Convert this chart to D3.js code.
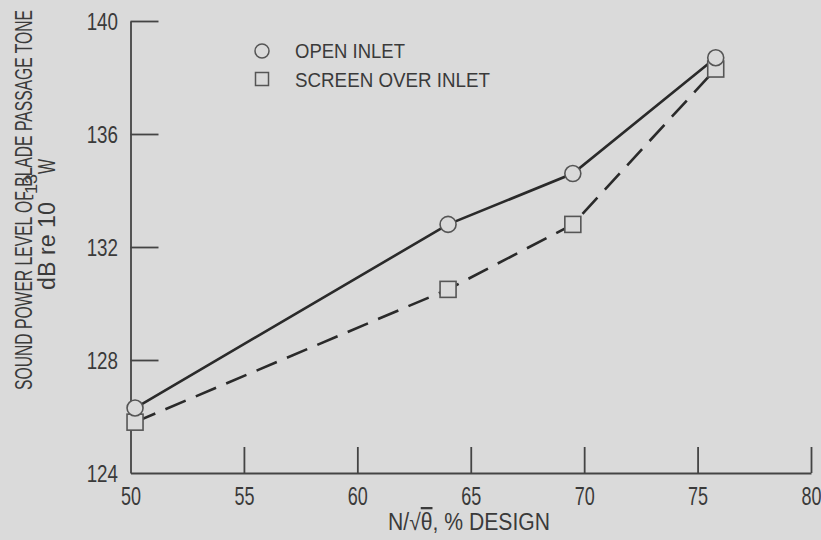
<!DOCTYPE html>
<html>
<head>
<meta charset="utf-8">
<script src="https://cdn.jsdelivr.net/npm/d3@7"></script>
<style>
    body { margin: 0; background: #dadada; }
    svg { display: block; }
    text { font-family: "Liberation Sans", Arial, sans-serif; fill: #3a3a3a; }
</style>
</head>
<body>
<svg id="chart" width="821" height="540"></svg>
<script>
// speed values, % design
var openX = [50.2, 64.0, 69.5, 75.8];
var openY = [126.3, 132.8, 134.6, 138.7];
var screenX = [50.2, 64.0, 69.5, 75.8];
var screenY = [125.8, 130.5, 132.8, 138.3];
var xTicks = [50, 55, 60, 65, 70, 75, 80];
var yTicks = [124, 128, 132, 136, 140];
var seriesNames = ["OPEN INLET", "SCREEN OVER INLET"];

var width = 821,
    height = 540,
    mLeft = 130.5,
    mRight = 811,
    mTop = 21,
    mBottom = 473;

var bg = "#dadada";
var ink = "#2a2a2a";

// squeeze text to look like the narrow typeface of the original
function squeeze(sel, factor) {
    sel.each(function () {
        var len = this.getComputedTextLength();
        d3.select(this)
            .attr("textLength", len * factor)
            .attr("lengthAdjust", "spacingAndGlyphs");
    });
}

var svg = d3.select("#chart");

svg.append("rect")
    .attr("width", width)
    .attr("height", height)
    .attr("fill", bg);

var x = d3.scaleLinear().domain([50, 80]).range([mLeft, mRight]);
var y = d3.scaleLinear().domain([124, 140]).range([mBottom, mTop]);

// x axis, ticks pointing up
var xAxis = svg.append("g")
    .attr("transform", "translate(0," + mBottom + ")")
    .call(d3.axisBottom(x).tickValues(xTicks).tickSize(-26).tickSizeOuter(0).tickFormat(d3.format("d")));

// y axis, ticks pointing right
var yAxis = svg.append("g")
    .attr("transform", "translate(" + mLeft + ",0)")
    .call(d3.axisLeft(y).tickValues(yTicks).tickSize(-28).tickSizeOuter(0).tickFormat(d3.format("d")));

[xAxis, yAxis].forEach(function (a) {
    a.select(".domain").attr("stroke", "#444").attr("stroke-width", 1.8);
    a.selectAll(".tick line").attr("stroke", "#444").attr("stroke-width", 1.8);
    a.selectAll(".tick text")
        .attr("fill", "#3a3a3a")
        .style("font-family", null);
});
xAxis.selectAll(".tick text")
    .attr("y", 32)
    .attr("dy", "0")
    .style("font-size", "25px")
    .call(squeeze, 0.72);
yAxis.selectAll(".tick text")
    .attr("x", -12.5)
    .attr("dy", "0.38em")
    .style("font-size", "23.5px")
    .call(squeeze, 0.8);
// the corner ticks are just the axis lines
yAxis.selectAll(".tick line").filter(function (d) { return d == 124; }).remove();
xAxis.selectAll(".tick line").filter(function (d) { return d == 50; }).remove();

// lines
var line = d3.line()
    .x(function (d) { return x(d[0]); })
    .y(function (d) { return y(d[1]); });

svg.append("path")
    .datum(d3.zip(openX, openY))
    .attr("d", line)
    .attr("fill", "none")
    .attr("stroke", ink)
    .attr("stroke-width", 2.6);

svg.append("path")
    .datum(d3.zip(screenX, screenY))
    .attr("d", line)
    .attr("fill", "none")
    .attr("stroke", ink)
    .attr("stroke-width", 2.6)
    .attr("stroke-dasharray", "22,11");

// markers
svg.selectAll(".sq")
    .data(d3.zip(screenX, screenY))
    .enter().append("rect")
    .attr("class", "sq")
    .attr("x", function (d) { return x(d[0]) - 8; })
    .attr("y", function (d) { return y(d[1]) - 8; })
    .attr("width", 16)
    .attr("height", 16)
    .attr("fill", bg)
    .attr("stroke", "#555")
    .attr("stroke-width", 1.6);

svg.selectAll(".ci")
    .data(d3.zip(openX, openY))
    .enter().append("circle")
    .attr("class", "ci")
    .attr("cx", function (d) { return x(d[0]); })
    .attr("cy", function (d) { return y(d[1]); })
    .attr("r", 8)
    .attr("fill", bg)
    .attr("stroke", "#555")
    .attr("stroke-width", 1.6);

// legend
var legend = svg.append("g").attr("transform", "translate(262,51)");
legend.append("circle")
    .attr("r", 7)
    .attr("fill", "none")
    .attr("stroke", "#555")
    .attr("stroke-width", 1.5);
legend.append("rect")
    .attr("x", -6.5)
    .attr("y", 21.5)
    .attr("width", 13)
    .attr("height", 13)
    .attr("fill", "none")
    .attr("stroke", "#555")
    .attr("stroke-width", 1.5);
legend.selectAll(".lt")
    .data(seriesNames)
    .enter().append("text")
    .attr("class", "lt")
    .attr("x", 33)
    .attr("y", function (d, i) { return 7 + i * 29; })
    .style("font-size", "21px")
    .attr("textLength", function (d, i) { return i == 0 ? 110 : 195; })
    .attr("lengthAdjust", "spacingAndGlyphs")
    .text(function (d) { return d; });

// axis titles
var xt = svg.append("text")
    .attr("x", 388)
    .attr("y", 530)
    .style("font-size", "23px")
    .attr("textLength", 162)
    .attr("lengthAdjust", "spacingAndGlyphs");
xt.append("tspan").text("N/√");
xt.append("tspan").style("text-decoration", "overline").text("θ");
xt.append("tspan").text(", % DESIGN");

svg.append("text")
    .attr("transform", "translate(32,200) rotate(-90)")
    .attr("text-anchor", "middle")
    .style("font-size", "23px")
    .attr("textLength", 380)
    .attr("lengthAdjust", "spacingAndGlyphs")
    .text("SOUND POWER LEVEL OF BLADE PASSAGE TONE");

var unit = svg.append("g").attr("transform", "translate(55,290) rotate(-90)");
unit.append("text")
    .style("font-size", "23px")
    .attr("textLength", 88)
    .attr("lengthAdjust", "spacingAndGlyphs")
    .text("dB re 10");
unit.append("text")
    .attr("x", 90)
    .attr("y", -18)
    .style("font-size", "16px")
    .attr("textLength", 26)
    .attr("lengthAdjust", "spacingAndGlyphs")
    .text("-13");
unit.append("text")
    .attr("x", 116)
    .style("font-size", "23px")
    .attr("textLength", 15)
    .attr("lengthAdjust", "spacingAndGlyphs")
    .text("W");
</script>
</body>
</html>
